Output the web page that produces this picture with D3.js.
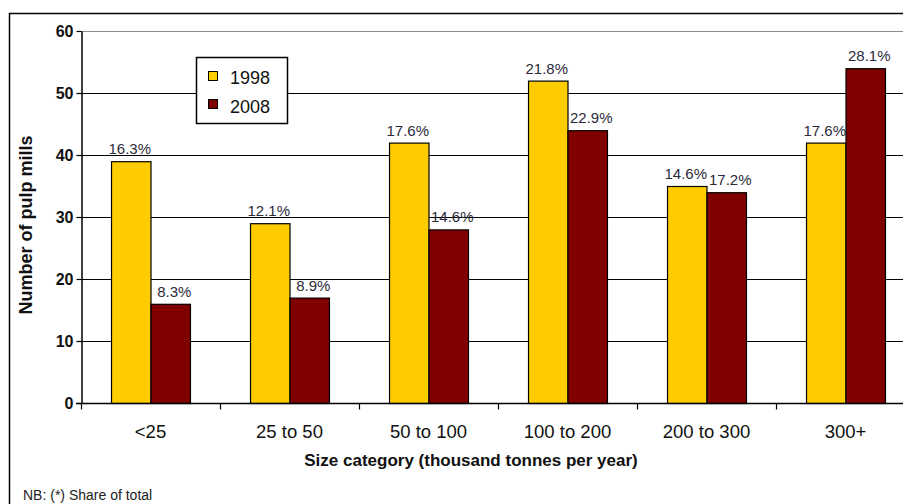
<!DOCTYPE html>
<html>
<head>
<meta charset="utf-8">
<script src="https://cdn.jsdelivr.net/npm/d3@7"></script>
<style>
  html, body { margin: 0; padding: 0; background: #fff; }
  svg { display: block; font-family: "Liberation Sans", Arial, sans-serif; }
</style>
</head>
<body>
<svg id="chart" width="903" height="504"></svg>
<script>
// Pulp mills by size category
const categories = ["<25", "25 to 50", "50 to 100", "100 to 200", "200 to 300", "300+"];
const seriesNames = ["1998", "2008"];
const mills1998 = [39, 29, 42, 52, 35, 42];
const mills2008 = [16, 17, 28, 44, 34, 54];
const share1998 = ["16.3%", "12.1%", "17.6%", "21.8%", "14.6%", "17.6%"];
const share2008 = ["8.3%", "8.9%", "14.6%", "22.9%", "17.2%", "28.1%"];
const yTicks = [0, 10, 20, 30, 40, 50, 60];

const colors = { "1998": "#FFCC00", "2008": "#800000" };
// horizontal nudge of the share labels per series
const labelShift = { "1998": -1, "2008": 4 };

const svg = d3.select("#chart");

// Outer frame (left and top edges)
svg.append("path")
  .attr("d", "M9.5,504 V13.5 H903")
  .attr("fill", "none").attr("stroke", "#000").attr("stroke-width", 1.5);

const plot = { left: 81, right: 915, top: 31, bottom: 403 };

const x = d3.scaleBand()
  .domain(categories)
  .range([plot.left, plot.right])
  .paddingInner(0.432)
  .paddingOuter(0.216);

const xs = d3.scaleBand().domain(seriesNames).range([0, x.bandwidth()]);

const y = d3.scaleLinear().domain([0, 60]).range([plot.bottom, plot.top]);

// Horizontal gridlines
svg.append("g").selectAll("line")
  .data(yTicks.filter(d => d > 0))
  .join("line")
  .attr("x1", plot.left).attr("x2", 903)
  .attr("y1", d => Math.round(y(d)) + 0.5).attr("y2", d => Math.round(y(d)) + 0.5)
  .attr("stroke", d => d === 60 ? "#8c8c8c" : "#000")
  .attr("stroke-width", 1);

// Y axis
const yAxis = svg.append("g")
  .attr("transform", `translate(${plot.left + 0.5},0)`)
  .call(d3.axisLeft(y).tickValues(yTicks).tickSize(5).tickPadding(3).tickSizeOuter(0));
yAxis.select(".domain").attr("stroke", "#000").attr("stroke-width", 1.5);
yAxis.selectAll(".tick line").attr("stroke", "#000").attr("stroke-width", 1.2);
yAxis.selectAll(".tick text")
  .attr("font-family", "Liberation Sans, Arial, sans-serif")
  .attr("font-size", 16).attr("font-weight", "bold").attr("fill", "#111");

// Bars
const groups = [
  { key: "1998", values: mills1998, labels: share1998 },
  { key: "2008", values: mills2008, labels: share2008 }
];

groups.forEach(s => {
  const g = svg.append("g");
  g.selectAll("rect")
    .data(categories.map((c, i) => ({ c, v: s.values[i] })))
    .join("rect")
    .attr("x", d => x(d.c) + xs(s.key) + 0.5)
    .attr("y", d => y(d.v) + 0.5)
    .attr("width", xs.bandwidth())
    .attr("height", d => y(0) - y(d.v))
    .attr("fill", colors[s.key])
    .attr("stroke", "#000").attr("stroke-width", 1.2);
  g.selectAll("text")
    .data(categories.map((c, i) => ({ c, v: s.values[i], t: s.labels[i] })))
    .join("text")
    .attr("x", d => x(d.c) + xs(s.key) + xs.bandwidth() / 2 + labelShift[s.key])
    .attr("y", d => y(d.v) - 7)
    .attr("text-anchor", "middle")
    .attr("font-size", 15)
    .attr("fill", "#2b2b3a")
    .text(d => d.t);
});

// X axis
const xAxisG = svg.append("g").attr("transform", `translate(0,${plot.bottom + 0.5})`);
xAxisG.append("line")
  .attr("x1", plot.left - 5).attr("x2", 903)
  .attr("stroke", "#000").attr("stroke-width", 1.5);
xAxisG.selectAll("line.tick")
  .data(d3.range(categories.length + 1))
  .join("line")
  .attr("class", "tick")
  .attr("x1", i => plot.left + i * x.step() + 0.5)
  .attr("x2", i => plot.left + i * x.step() + 0.5)
  .attr("y1", 0).attr("y2", 6)
  .attr("stroke", "#000").attr("stroke-width", 1.2);
xAxisG.selectAll("text")
  .data(categories)
  .join("text")
  .attr("x", d => x(d) + x.bandwidth() / 2)
  .attr("y", 34)
  .attr("text-anchor", "middle")
  .attr("font-size", 18.5)
  .attr("fill", "#111")
  .text(d => d);

// Axis titles
svg.append("text")
  .attr("x", 471).attr("y", 466)
  .attr("text-anchor", "middle")
  .attr("font-size", 17).attr("font-weight", "bold").attr("fill", "#111")
  .text("Size category (thousand tonnes per year)");

svg.append("text")
  .attr("transform", "translate(32,225) rotate(-90)")
  .attr("text-anchor", "middle")
  .attr("font-size", 18).attr("font-weight", "bold").attr("fill", "#111")
  .text("Number of pulp mills");

// Legend
const legend = svg.append("g");
legend.append("rect")
  .attr("x", 196.5).attr("y", 57.5).attr("width", 91).attr("height", 66)
  .attr("fill", "#fff").attr("stroke", "#000").attr("stroke-width", 1.5);
seriesNames.forEach((s, i) => {
  legend.append("rect")
    .attr("x", 208.5).attr("y", 71.5 + i * 28)
    .attr("width", 9).attr("height", 9)
    .attr("fill", colors[s]).attr("stroke", "#000").attr("stroke-width", 1);
  legend.append("text")
    .attr("x", 230).attr("y", 84 + i * 29)
    .attr("font-size", 18).attr("fill", "#111")
    .text(s);
});

// Footnote
svg.append("text")
  .attr("x", 23).attr("y", 500)
  .attr("font-size", 14).attr("fill", "#222")
  .text("NB: (*) Share of total");
</script>
</body>
</html>
